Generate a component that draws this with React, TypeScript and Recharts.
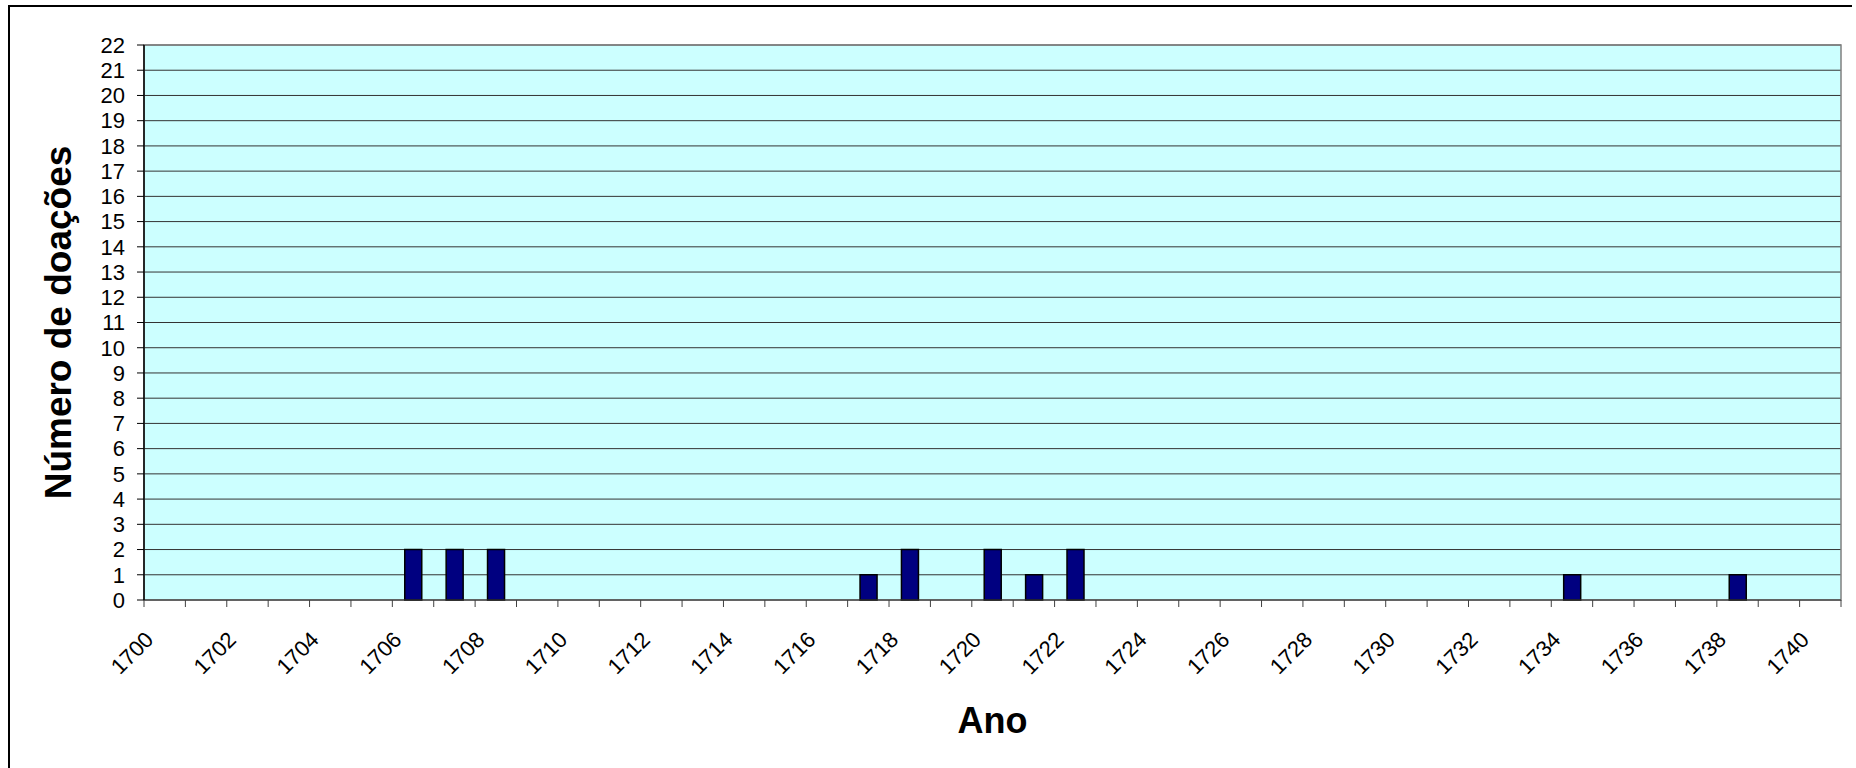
import React from "react";
import { BarChart, Bar, XAxis, YAxis, CartesianGrid, ReferenceArea, Label } from "recharts";

const years = [
  "1700", "1701", "1702", "1703", "1704", "1705", "1706", "1707", "1708", "1709",
  "1710", "1711", "1712", "1713", "1714", "1715", "1716", "1717", "1718", "1719",
  "1720", "1721", "1722", "1723", "1724", "1725", "1726", "1727", "1728", "1729",
  "1730", "1731", "1732", "1733", "1734", "1735", "1736", "1737", "1738", "1739",
  "1740",
];

const donations = [
  0, 0, 0, 0, 0, 0, 2, 2, 2, 0,
  0, 0, 0, 0, 0, 0, 0, 1, 2, 0,
  2, 1, 2, 0, 0, 0, 0, 0, 0, 0,
  0, 0, 0, 0, 1, 0, 0, 0, 1, 0,
  0,
];

const yTicks = [0, 1, 2, 3, 4, 5, 6, 7, 8, 9, 10, 11, 12, 13, 14, 15, 16, 17, 18, 19, 20, 21, 22];

const xTitle = "Ano";
const yTitle = "Número de doações";

const font = '"Liberation Sans", Arial, Helvetica, sans-serif';

const data = years.map((year, i) => ({ year, value: donations[i] }));

// Excel-style tick: tick marks on category boundaries, label on every second year
function YearTick(props: any) {
  const { x, y, payload, index } = props;
  const half = payload && payload.offset ? payload.offset : 20.7;
  const i = typeof index === "number" ? index : payload.index;
  const lx = x - 10;
  const ly = y + 41;
  return (
    <g>
      <line x1={x - half} y1={y} x2={x - half} y2={y + 7} stroke="#404040" />
      {i === years.length - 1 && (
        <line x1={x + half} y1={y} x2={x + half} y2={y + 7} stroke="#404040" />
      )}
      {i % 2 === 0 && (
        <text
          x={lx}
          y={ly}
          textAnchor="end"
          transform={`rotate(-45 ${lx} ${ly})`}
          fontSize={22}
          fontFamily={font}
          fill="#000"
        >
          {payload.value}
        </text>
      )}
    </g>
  );
}

export default function App() {
  return (
    <div style={{ position: "absolute", left: 0, top: 0, width: 1856, height: 768, overflow: "hidden", background: "#fff" }}>
      <div
        style={{
          position: "absolute",
          left: 8,
          top: 5,
          width: 1844,
          height: 800,
          boxSizing: "border-box",
          borderTop: "2px solid #000",
          borderLeft: "2px solid #000",
        }}
      />
      <div style={{ position: "absolute", left: 0, top: 0 }}>
        <BarChart
          width={1856}
          height={768}
          data={data}
          margin={{ top: 45, right: 15, bottom: 0, left: 0 }}
          barCategoryGap="30%"
        >
          <CartesianGrid vertical={false} stroke="#333" fill="#CCFFFF" fillOpacity={1} />
          <ReferenceArea y1={0} y2={22} fill="none" stroke="#808080" strokeWidth={1.5} />
          <XAxis
            dataKey="year"
            interval={0}
            height={168}
            tickLine={false}
            tickSize={0}
            tickMargin={0}
            axisLine={{ stroke: "#404040" }}
            tick={<YearTick />}
          >
            <Label
              content={(p: any) => {
                const vb = p.viewBox || { x: 144, y: 600, width: 1697, height: 168 };
                return (
                  <text
                    x={vb.x + vb.width / 2}
                    y={vb.y + 133}
                    textAnchor="middle"
                    fontSize={36}
                    fontWeight="bold"
                    fontFamily={font}
                    fill="#000"
                  >
                    {xTitle}
                  </text>
                );
              }}
            />
          </XAxis>
          <YAxis
            width={144}
            domain={[0, 22]}
            ticks={yTicks}
            interval={0}
            tickSize={7}
            tickMargin={12}
            tick={{ fill: "#000", fontSize: 22, fontFamily: font }}
            axisLine={{ stroke: "#000", strokeWidth: 1.5 }}
            tickLine={{ stroke: "#000" }}
          >
            <Label
              content={(p: any) => {
                const vb = p.viewBox || { x: 0, y: 45, width: 144, height: 555 };
                const tx = vb.x + 71;
                const ty = vb.y + vb.height / 2;
                return (
                  <text
                    x={tx}
                    y={ty}
                    textAnchor="middle"
                    transform={`rotate(-90 ${tx} ${ty})`}
                    fontSize={37}
                    fontWeight="bold"
                    fontFamily={font}
                    fill="#000"
                  >
                    {yTitle}
                  </text>
                );
              }}
            />
          </YAxis>
          <Bar dataKey="value" fill="#000080" stroke="#000" strokeWidth={1.5} isAnimationActive={false} />
        </BarChart>
      </div>
    </div>
  );
}
